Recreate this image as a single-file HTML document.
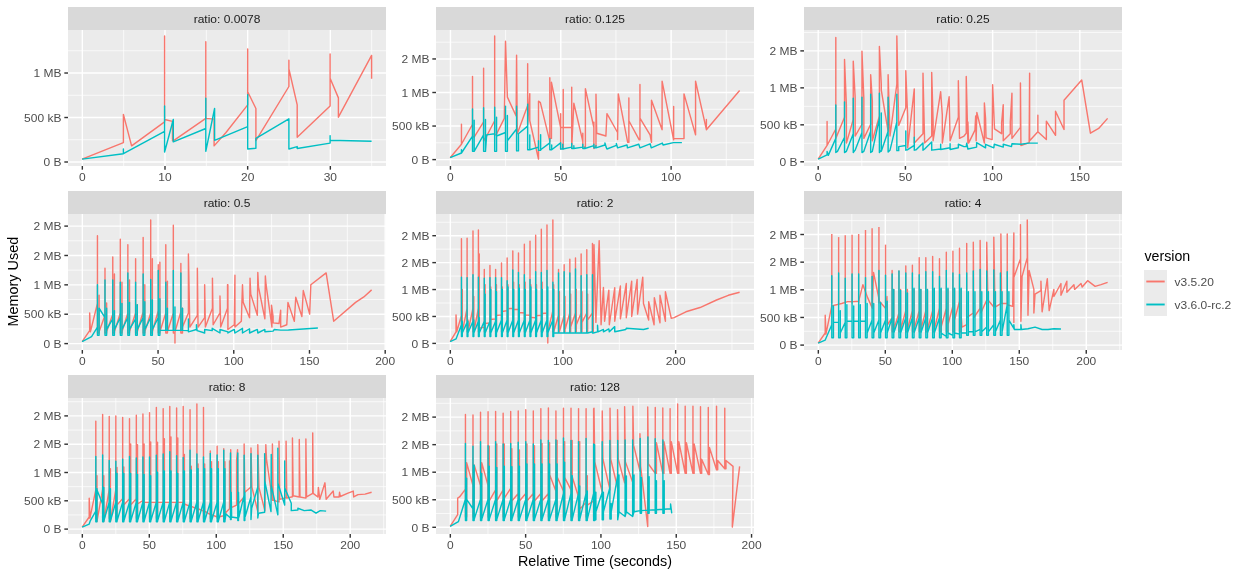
<!DOCTYPE html>
<html><head><meta charset="utf-8"><style>
html,body{margin:0;padding:0;background:#fff;width:1244px;height:577px;overflow:hidden;position:relative}
svg text{font-family:"Liberation Sans",sans-serif}
svg{will-change:transform}
</style></head><body>
<svg width="1244" height="577" viewBox="0 0 1244 577" style="position:absolute;left:0;top:0">
<rect x="68" y="7" width="318" height="23" fill="#D9D9D9"/>
<text transform="translate(227.0,22.8) scale(1,0.9)" fill="#1A1A1A" font-size="12" text-anchor="middle">ratio: 0.0078</text>
<rect x="68" y="30" width="318" height="136" fill="#EBEBEB"/>
<line x1="68" x2="386" y1="139.75" y2="139.75" stroke="#fff" stroke-width="0.71"/>
<line x1="68" x2="386" y1="95.27" y2="95.27" stroke="#fff" stroke-width="0.71"/>
<line x1="68" x2="386" y1="50.77" y2="50.77" stroke="#fff" stroke-width="0.71"/>
<line x1="123.66" x2="123.66" y1="30" y2="166" stroke="#fff" stroke-width="0.71"/>
<line x1="206.33" x2="206.33" y1="30" y2="166" stroke="#fff" stroke-width="0.71"/>
<line x1="289.00" x2="289.00" y1="30" y2="166" stroke="#fff" stroke-width="0.71"/>
<line x1="371.66" x2="371.66" y1="30" y2="166" stroke="#fff" stroke-width="0.71"/>
<line x1="68" x2="386" y1="162.00" y2="162.00" stroke="#fff" stroke-width="1.42"/>
<line x1="64.33" x2="68" y1="162.00" y2="162.00" stroke="#333" stroke-width="1.42"/>
<text transform="translate(61.4,166.20) scale(1,0.9)" fill="#4D4D4D" font-size="12" text-anchor="end">0 B</text>
<line x1="68" x2="386" y1="117.51" y2="117.51" stroke="#fff" stroke-width="1.42"/>
<line x1="64.33" x2="68" y1="117.51" y2="117.51" stroke="#333" stroke-width="1.42"/>
<text transform="translate(61.4,121.71) scale(1,0.9)" fill="#4D4D4D" font-size="12" text-anchor="end">500 kB</text>
<line x1="68" x2="386" y1="73.02" y2="73.02" stroke="#fff" stroke-width="1.42"/>
<line x1="64.33" x2="68" y1="73.02" y2="73.02" stroke="#333" stroke-width="1.42"/>
<text transform="translate(61.4,77.22) scale(1,0.9)" fill="#4D4D4D" font-size="12" text-anchor="end">1 MB</text>
<line x1="82.33" x2="82.33" y1="30" y2="166" stroke="#fff" stroke-width="1.42"/>
<line x1="82.33" x2="82.33" y1="166" y2="169.67" stroke="#333" stroke-width="1.42"/>
<text transform="translate(82.33,181.2) scale(1,0.9)" fill="#4D4D4D" font-size="12" text-anchor="middle">0</text>
<line x1="165.00" x2="165.00" y1="30" y2="166" stroke="#fff" stroke-width="1.42"/>
<line x1="165.00" x2="165.00" y1="166" y2="169.67" stroke="#333" stroke-width="1.42"/>
<text transform="translate(165.00,181.2) scale(1,0.9)" fill="#4D4D4D" font-size="12" text-anchor="middle">10</text>
<line x1="247.66" x2="247.66" y1="30" y2="166" stroke="#fff" stroke-width="1.42"/>
<line x1="247.66" x2="247.66" y1="166" y2="169.67" stroke="#333" stroke-width="1.42"/>
<text transform="translate(247.66,181.2) scale(1,0.9)" fill="#4D4D4D" font-size="12" text-anchor="middle">20</text>
<line x1="330.33" x2="330.33" y1="30" y2="166" stroke="#fff" stroke-width="1.42"/>
<line x1="330.33" x2="330.33" y1="166" y2="169.67" stroke="#333" stroke-width="1.42"/>
<text transform="translate(330.33,181.2) scale(1,0.9)" fill="#4D4D4D" font-size="12" text-anchor="middle">30</text>
<svg x="68" y="30" width="318" height="136" viewBox="68 30 318 136" overflow="hidden">
<polyline points="82.1,159.1 123.4,142.6 123.4,114.4 131.6,145.9 164.6,121.9 164.6,35.9 164.6,119.5 172.5,121.4 172.5,140.7 173.6,140.7 205.8,118.4 205.8,41.8 205.8,118.4 214.1,119.1 214.1,145.9 226,132.5 247.7,104.9 247.7,48.9 247.7,91.7 255.9,108.5 255.9,140.7 288.9,86.5 288.9,60.2 288.9,68.9 297.2,104.9 297.2,137.2 330.1,105.9 330.1,54.0 330.1,78.3 338.4,97.9 338.4,117.2 371.6,55.4 371.6,78.8" fill="none" stroke="#F8766D" stroke-width="1.42" stroke-linejoin="round"/>
<polyline points="82.1,159.1 123.4,153.7 123.4,149 123.4,153.7 164.6,131.3 164.6,105.9 164.6,152 173.3,119.5 173.3,141.9 205.8,128.5 205.8,98.3 205.8,151.3 214.6,108.5 214.6,140.3 226,135.6 247.7,126.6 247.7,94.8 247.7,149 255.9,148.3 255.9,138.4 288.9,118.8 288.9,149 297.2,146.6 297.2,148.5 330.1,143.1 330.1,135.6 330.1,140.3 371.6,141.2" fill="none" stroke="#00BFC4" stroke-width="1.42" stroke-linejoin="round"/>
</svg>
<rect x="436" y="7" width="318" height="23" fill="#D9D9D9"/>
<text transform="translate(595.0,22.8) scale(1,0.9)" fill="#1A1A1A" font-size="12" text-anchor="middle">ratio: 0.125</text>
<rect x="436" y="30" width="318" height="136" fill="#EBEBEB"/>
<line x1="436" x2="754" y1="142.82" y2="142.82" stroke="#fff" stroke-width="0.71"/>
<line x1="436" x2="754" y1="109.28" y2="109.28" stroke="#fff" stroke-width="0.71"/>
<line x1="436" x2="754" y1="75.72" y2="75.72" stroke="#fff" stroke-width="0.71"/>
<line x1="436" x2="754" y1="42.18" y2="42.18" stroke="#fff" stroke-width="0.71"/>
<line x1="505.61" x2="505.61" y1="30" y2="166" stroke="#fff" stroke-width="0.71"/>
<line x1="615.95" x2="615.95" y1="30" y2="166" stroke="#fff" stroke-width="0.71"/>
<line x1="726.29" x2="726.29" y1="30" y2="166" stroke="#fff" stroke-width="0.71"/>
<line x1="436" x2="754" y1="159.60" y2="159.60" stroke="#fff" stroke-width="1.42"/>
<line x1="432.33" x2="436" y1="159.60" y2="159.60" stroke="#333" stroke-width="1.42"/>
<text transform="translate(429.4,163.80) scale(1,0.9)" fill="#4D4D4D" font-size="12" text-anchor="end">0 B</text>
<line x1="436" x2="754" y1="126.05" y2="126.05" stroke="#fff" stroke-width="1.42"/>
<line x1="432.33" x2="436" y1="126.05" y2="126.05" stroke="#333" stroke-width="1.42"/>
<text transform="translate(429.4,130.25) scale(1,0.9)" fill="#4D4D4D" font-size="12" text-anchor="end">500 kB</text>
<line x1="436" x2="754" y1="92.50" y2="92.50" stroke="#fff" stroke-width="1.42"/>
<line x1="432.33" x2="436" y1="92.50" y2="92.50" stroke="#333" stroke-width="1.42"/>
<text transform="translate(429.4,96.70) scale(1,0.9)" fill="#4D4D4D" font-size="12" text-anchor="end">1 MB</text>
<line x1="436" x2="754" y1="58.95" y2="58.95" stroke="#fff" stroke-width="1.42"/>
<line x1="432.33" x2="436" y1="58.95" y2="58.95" stroke="#333" stroke-width="1.42"/>
<text transform="translate(429.4,63.15) scale(1,0.9)" fill="#4D4D4D" font-size="12" text-anchor="end">2 MB</text>
<line x1="450.44" x2="450.44" y1="30" y2="166" stroke="#fff" stroke-width="1.42"/>
<line x1="450.44" x2="450.44" y1="166" y2="169.67" stroke="#333" stroke-width="1.42"/>
<text transform="translate(450.44,181.2) scale(1,0.9)" fill="#4D4D4D" font-size="12" text-anchor="middle">0</text>
<line x1="560.78" x2="560.78" y1="30" y2="166" stroke="#fff" stroke-width="1.42"/>
<line x1="560.78" x2="560.78" y1="166" y2="169.67" stroke="#333" stroke-width="1.42"/>
<text transform="translate(560.78,181.2) scale(1,0.9)" fill="#4D4D4D" font-size="12" text-anchor="middle">50</text>
<line x1="671.12" x2="671.12" y1="30" y2="166" stroke="#fff" stroke-width="1.42"/>
<line x1="671.12" x2="671.12" y1="166" y2="169.67" stroke="#333" stroke-width="1.42"/>
<text transform="translate(671.12,181.2) scale(1,0.9)" fill="#4D4D4D" font-size="12" text-anchor="middle">100</text>
<svg x="436" y="30" width="318" height="136" viewBox="436 30 318 136" overflow="hidden">
<polyline points="450.14,157.71 461.45,144.28 461.45,124.25 461.45,144.28 472.52,124.25 472.52,76.42 472.52,136.03 474.17,137.21 483.6,121.89 483.6,68.17 483.6,140.74 486.66,136.03 494.67,120.72 494.67,35.89 494.67,134.85 496.08,134.85 504.33,118.36 505.51,41.31 507.39,97.15 516.11,116.0 516.58,55.21 517.29,133.68 527.66,105.4 527.66,63.69 527.66,124.25 529.78,93.62 529.78,120.72 538.5,159.12 538.5,101.16 540.38,102.57 549.81,141.45 549.81,77.83 549.81,138.39 551.46,138.39 551.46,82.31 560.65,127.55 560.65,148.99 560.65,113.65 560.65,127.55 563.24,127.55 563.24,89.38 563.24,148.99 563.24,127.55 571.72,127.55 571.72,87.26 571.72,148.28 573.84,103.28 582.8,141.45 582.8,147.11 582.8,133.2 582.8,147.11 585.39,147.11 585.39,88.67 593.87,127.55 593.87,148.52 593.87,122.13 593.87,148.52 595.99,145.69 595.99,94.33 596.7,133.2 605.89,136.03 606.96,113.65 617.56,132.5 617.56,139.57 618.27,93.85 627.69,142.39 628.87,142.39 628.87,97.86 628.87,120.72 639.24,139.8 639.95,139.8 639.95,84.43 639.95,118.12 650.08,134.85 651.49,142.39 651.49,100.22 662.1,129.67 662.1,81.13 673.64,139.8 673.64,106.58 673.64,138.62 684.01,138.62 684.01,93.85 695.56,134.85 695.56,81.13 706.39,129.67 706.39,119.54 706.39,129.67 739.62,90.56" fill="none" stroke="#F8766D" stroke-width="1.42" stroke-linejoin="round"/>
<polyline points="450.14,157.71 461.45,153.0 461.45,149.7 461.45,153.0 472.52,136.03 472.52,108.93 472.52,151.35 474.17,151.35 474.17,120.25 474.17,151.35 483.6,134.85 483.6,107.76 483.6,151.35 485.48,151.35 485.48,119.54 485.48,151.35 486.66,134.85 494.67,133.68 494.67,107.29 494.67,151.35 496.56,151.35 496.56,117.18 496.56,136.03 505.51,132.5 505.51,106.11 505.51,151.35 507.39,151.35 507.39,115.53 507.39,140.74 516.58,128.96 516.58,106.11 516.58,150.88 518.47,150.88 518.47,133.68 527.66,126.14 527.66,104.22 527.66,149.7 529.78,149.7 529.78,134.85 529.78,149.7 538.5,147.11 538.5,140.74 538.5,150.41 540.62,150.41 540.62,134.62 540.62,149.7 549.81,142.87 549.81,138.62 549.81,149.7 551.69,149.7 551.69,144.99 551.69,149.7 560.65,142.87 560.65,148.99 562.77,148.99 562.77,144.28 562.77,148.99 571.72,147.11 571.72,143.57 571.72,148.52 573.84,148.52 573.84,145.69 573.84,148.52 582.8,147.11 582.8,144.28 582.8,148.52 584.92,148.52 584.92,147.11 584.92,148.52 593.87,145.69 593.87,144.28 593.87,147.81 595.99,147.81 595.99,145.69 595.99,147.81 604.94,144.99 604.94,142.87 606.12,147.11 606.96,148.99 616.38,145.46 616.38,143.57 617.56,147.81 626.99,144.99 627.46,147.81 638.77,144.28 639.95,147.81 650.08,143.81 651.26,147.81 662.33,143.1 663.04,144.99 673.41,142.63 681.89,142.63" fill="none" stroke="#00BFC4" stroke-width="1.42" stroke-linejoin="round"/>
</svg>
<rect x="804" y="7" width="318" height="23" fill="#D9D9D9"/>
<text transform="translate(963.0,22.8) scale(1,0.9)" fill="#1A1A1A" font-size="12" text-anchor="middle">ratio: 0.25</text>
<rect x="804" y="30" width="318" height="136" fill="#EBEBEB"/>
<line x1="804" x2="1122" y1="143.31" y2="143.31" stroke="#fff" stroke-width="0.71"/>
<line x1="804" x2="1122" y1="106.35" y2="106.35" stroke="#fff" stroke-width="0.71"/>
<line x1="804" x2="1122" y1="69.38" y2="69.38" stroke="#fff" stroke-width="0.71"/>
<line x1="804" x2="1122" y1="32.41" y2="32.41" stroke="#fff" stroke-width="0.71"/>
<line x1="861.81" x2="861.81" y1="30" y2="166" stroke="#fff" stroke-width="0.71"/>
<line x1="949.02" x2="949.02" y1="30" y2="166" stroke="#fff" stroke-width="0.71"/>
<line x1="1036.24" x2="1036.24" y1="30" y2="166" stroke="#fff" stroke-width="0.71"/>
<line x1="804" x2="1122" y1="161.80" y2="161.80" stroke="#fff" stroke-width="1.42"/>
<line x1="800.33" x2="804" y1="161.80" y2="161.80" stroke="#333" stroke-width="1.42"/>
<text transform="translate(797.4,166.00) scale(1,0.9)" fill="#4D4D4D" font-size="12" text-anchor="end">0 B</text>
<line x1="804" x2="1122" y1="124.83" y2="124.83" stroke="#fff" stroke-width="1.42"/>
<line x1="800.33" x2="804" y1="124.83" y2="124.83" stroke="#333" stroke-width="1.42"/>
<text transform="translate(797.4,129.03) scale(1,0.9)" fill="#4D4D4D" font-size="12" text-anchor="end">500 kB</text>
<line x1="804" x2="1122" y1="87.86" y2="87.86" stroke="#fff" stroke-width="1.42"/>
<line x1="800.33" x2="804" y1="87.86" y2="87.86" stroke="#333" stroke-width="1.42"/>
<text transform="translate(797.4,92.06) scale(1,0.9)" fill="#4D4D4D" font-size="12" text-anchor="end">1 MB</text>
<line x1="804" x2="1122" y1="50.89" y2="50.89" stroke="#fff" stroke-width="1.42"/>
<line x1="800.33" x2="804" y1="50.89" y2="50.89" stroke="#333" stroke-width="1.42"/>
<text transform="translate(797.4,55.09) scale(1,0.9)" fill="#4D4D4D" font-size="12" text-anchor="end">2 MB</text>
<line x1="818.20" x2="818.20" y1="30" y2="166" stroke="#fff" stroke-width="1.42"/>
<line x1="818.20" x2="818.20" y1="166" y2="169.67" stroke="#333" stroke-width="1.42"/>
<text transform="translate(818.20,181.2) scale(1,0.9)" fill="#4D4D4D" font-size="12" text-anchor="middle">0</text>
<line x1="905.42" x2="905.42" y1="30" y2="166" stroke="#fff" stroke-width="1.42"/>
<line x1="905.42" x2="905.42" y1="166" y2="169.67" stroke="#333" stroke-width="1.42"/>
<text transform="translate(905.42,181.2) scale(1,0.9)" fill="#4D4D4D" font-size="12" text-anchor="middle">50</text>
<line x1="992.63" x2="992.63" y1="30" y2="166" stroke="#fff" stroke-width="1.42"/>
<line x1="992.63" x2="992.63" y1="166" y2="169.67" stroke="#333" stroke-width="1.42"/>
<text transform="translate(992.63,181.2) scale(1,0.9)" fill="#4D4D4D" font-size="12" text-anchor="middle">100</text>
<line x1="1079.85" x2="1079.85" y1="30" y2="166" stroke="#fff" stroke-width="1.42"/>
<line x1="1079.85" x2="1079.85" y1="166" y2="169.67" stroke="#333" stroke-width="1.42"/>
<text transform="translate(1079.85,181.2) scale(1,0.9)" fill="#4D4D4D" font-size="12" text-anchor="middle">150</text>
<svg x="804" y="30" width="318" height="136" viewBox="804 30 318 136" overflow="hidden">
<polyline points="818.14,159.12 827.09,145.46 827.09,121.42 827.09,145.46 835.81,128.96 835.81,37.54 835.81,138.39 844.53,117.18 844.53,59.45 846.41,105.87 846.41,143.1 853.25,119.54 853.25,61.1 855.13,97.15 855.13,136.03 861.96,124.25 861.96,51.21 863.85,98.8 863.85,138.39 870.68,124.25 870.68,74.77 872.33,100.69 872.33,140.74 879.4,116.0 879.4,46.49 881.29,84.19 881.29,90.08 888.12,131.32 888.12,74.77 890.0,136.03 896.84,84.19 896.84,35.89 898.72,125.43 905.79,107.76 905.79,70.76 907.68,116.71 907.68,147.81 914.27,88.91 914.27,143.1 922.99,133.68 922.99,73.12 924.64,143.1 931.71,136.03 931.71,72.41 933.12,121.89 933.12,140.74 940.66,91.73 942.31,114.83 942.31,143.1 949.15,96.68 950.09,140.74 958.34,117.18 958.34,80.66 959.51,138.39 963.99,136.03 966.24,133.2 966.24,76.42 967.89,143.1 967.89,121.89 968.6,143.1 974.96,130.14 975.67,116.0 976.14,140.74 976.84,112.47 984.38,143.1 984.38,103.04 985.56,118.36 986.03,137.92 992.16,139.57 992.63,84.67 994.52,128.96 1001.59,133.68 1001.59,123.07 1003.23,104.69 1003.23,140.74 1010.3,133.68 1010.3,121.89 1011.95,93.15 1011.95,138.39 1020.44,127.31 1020.44,83.02 1020.91,145.46 1029.15,142.63 1029.62,73.12 1029.62,140.74 1037.87,131.79 1037.87,115.3 1037.87,131.79 1046.35,139.57 1046.35,121.19 1055.54,135.33 1055.54,111.29 1064.03,129.43 1064.03,100.22 1081.7,79.95 1090.42,133.2 1098.66,128.49 1107.62,118.36" fill="none" stroke="#F8766D" stroke-width="1.42" stroke-linejoin="round"/>
<polyline points="818.14,159.12 827.09,154.88 827.09,151.35 828.27,155.35 835.81,138.39 835.81,104.93 835.81,152.53 837.46,151.35 844.53,137.21 844.53,101.87 844.53,152.53 846.41,151.35 853.25,133.68 853.25,98.33 853.25,152.53 855.13,150.17 861.96,132.5 861.96,97.15 861.96,152.53 863.85,151.35 870.68,131.32 870.68,94.09 870.68,152.53 872.33,151.35 879.4,118.36 879.4,93.15 879.4,152.53 881.29,150.17 881.29,112.94 881.29,151.35 888.12,131.32 888.12,97.15 888.12,152.05 890.0,150.17 896.84,121.89 896.84,94.09 896.84,150.64 898.72,150.64 898.72,146.64 905.79,145.46 905.79,130.85 905.79,150.17 907.68,149.7 914.27,145.46 914.27,137.21 914.27,150.17 916.16,149.7 922.99,143.1 922.99,150.17 924.64,148.99 931.71,141.92 931.71,150.17 940.66,148.99 940.66,144.28 940.66,149.46 950.09,147.81 950.09,143.81 950.09,149.46 958.34,147.81 958.34,144.28 963.99,146.64 966.24,146.64 966.71,143.1 967.89,148.99 976.61,147.11 976.61,142.63 985.56,147.81 985.56,144.28 993.81,147.81 994.28,144.28 1003.23,147.11 1003.23,144.28 1011.48,146.64 1011.95,143.81 1020.91,144.28 1028.68,143.1 1037.87,143.1" fill="none" stroke="#00BFC4" stroke-width="1.42" stroke-linejoin="round"/>
</svg>
<rect x="68" y="191" width="318" height="23" fill="#D9D9D9"/>
<text transform="translate(227.0,206.8) scale(1,0.9)" fill="#1A1A1A" font-size="12" text-anchor="middle">ratio: 0.5</text>
<rect x="68" y="214" width="318" height="136" fill="#EBEBEB"/>
<line x1="68" x2="386" y1="328.91" y2="328.91" stroke="#fff" stroke-width="0.71"/>
<line x1="68" x2="386" y1="299.54" y2="299.54" stroke="#fff" stroke-width="0.71"/>
<line x1="68" x2="386" y1="270.16" y2="270.16" stroke="#fff" stroke-width="0.71"/>
<line x1="68" x2="386" y1="240.79" y2="240.79" stroke="#fff" stroke-width="0.71"/>
<line x1="120.19" x2="120.19" y1="214" y2="350" stroke="#fff" stroke-width="0.71"/>
<line x1="195.90" x2="195.90" y1="214" y2="350" stroke="#fff" stroke-width="0.71"/>
<line x1="271.62" x2="271.62" y1="214" y2="350" stroke="#fff" stroke-width="0.71"/>
<line x1="347.33" x2="347.33" y1="214" y2="350" stroke="#fff" stroke-width="0.71"/>
<line x1="68" x2="386" y1="343.60" y2="343.60" stroke="#fff" stroke-width="1.42"/>
<line x1="64.33" x2="68" y1="343.60" y2="343.60" stroke="#333" stroke-width="1.42"/>
<text transform="translate(61.4,347.80) scale(1,0.9)" fill="#4D4D4D" font-size="12" text-anchor="end">0 B</text>
<line x1="68" x2="386" y1="314.23" y2="314.23" stroke="#fff" stroke-width="1.42"/>
<line x1="64.33" x2="68" y1="314.23" y2="314.23" stroke="#333" stroke-width="1.42"/>
<text transform="translate(61.4,318.43) scale(1,0.9)" fill="#4D4D4D" font-size="12" text-anchor="end">500 kB</text>
<line x1="68" x2="386" y1="284.85" y2="284.85" stroke="#fff" stroke-width="1.42"/>
<line x1="64.33" x2="68" y1="284.85" y2="284.85" stroke="#333" stroke-width="1.42"/>
<text transform="translate(61.4,289.05) scale(1,0.9)" fill="#4D4D4D" font-size="12" text-anchor="end">1 MB</text>
<line x1="68" x2="386" y1="255.48" y2="255.48" stroke="#fff" stroke-width="1.42"/>
<line x1="64.33" x2="68" y1="255.48" y2="255.48" stroke="#333" stroke-width="1.42"/>
<text transform="translate(61.4,259.68) scale(1,0.9)" fill="#4D4D4D" font-size="12" text-anchor="end">2 MB</text>
<line x1="68" x2="386" y1="226.10" y2="226.10" stroke="#fff" stroke-width="1.42"/>
<line x1="64.33" x2="68" y1="226.10" y2="226.10" stroke="#333" stroke-width="1.42"/>
<text transform="translate(61.4,230.30) scale(1,0.9)" fill="#4D4D4D" font-size="12" text-anchor="end">2 MB</text>
<line x1="82.33" x2="82.33" y1="214" y2="350" stroke="#fff" stroke-width="1.42"/>
<line x1="82.33" x2="82.33" y1="350" y2="353.67" stroke="#333" stroke-width="1.42"/>
<text transform="translate(82.33,365.2) scale(1,0.9)" fill="#4D4D4D" font-size="12" text-anchor="middle">0</text>
<line x1="158.05" x2="158.05" y1="214" y2="350" stroke="#fff" stroke-width="1.42"/>
<line x1="158.05" x2="158.05" y1="350" y2="353.67" stroke="#333" stroke-width="1.42"/>
<text transform="translate(158.05,365.2) scale(1,0.9)" fill="#4D4D4D" font-size="12" text-anchor="middle">50</text>
<line x1="233.76" x2="233.76" y1="214" y2="350" stroke="#fff" stroke-width="1.42"/>
<line x1="233.76" x2="233.76" y1="350" y2="353.67" stroke="#333" stroke-width="1.42"/>
<text transform="translate(233.76,365.2) scale(1,0.9)" fill="#4D4D4D" font-size="12" text-anchor="middle">100</text>
<line x1="309.48" x2="309.48" y1="214" y2="350" stroke="#fff" stroke-width="1.42"/>
<line x1="309.48" x2="309.48" y1="350" y2="353.67" stroke="#333" stroke-width="1.42"/>
<text transform="translate(309.48,365.2) scale(1,0.9)" fill="#4D4D4D" font-size="12" text-anchor="middle">150</text>
<line x1="385.19" x2="385.19" y1="214" y2="350" stroke="#fff" stroke-width="1.42"/>
<line x1="385.19" x2="385.19" y1="350" y2="353.67" stroke="#333" stroke-width="1.42"/>
<text transform="translate(385.19,365.2) scale(1,0.9)" fill="#4D4D4D" font-size="12" text-anchor="middle">200</text>
<svg x="68" y="214" width="318" height="136" viewBox="68 214 318 136" overflow="hidden">
<polyline points="82.14,341.71 89.68,330.64 89.68,312.96 90.38,331.81 97.45,303.54 97.45,235.68 97.45,332.99 99.1,332.99 99.1,295.29 99.1,331.81 104.99,315.32 104.99,268.19 104.99,332.99 106.64,332.99 106.64,303.07 106.64,331.81 112.77,314.14 112.77,256.88 112.77,332.99 114.42,332.99 114.42,274.08 114.42,331.81 120.31,312.96 120.31,239.21 120.31,332.99 121.96,332.99 121.96,282.33 121.96,331.81 127.85,312.96 127.85,244.63 127.85,332.99 129.5,332.99 129.5,279.98 129.5,331.81 135.62,312.96 135.62,258.77 135.62,332.99 137.27,332.99 137.27,304.72 137.27,331.81 143.16,311.79 143.16,237.56 143.16,332.99 144.81,332.99 144.81,284.69 144.81,331.81 150.7,312.96 150.7,219.89 150.7,332.99 152.35,332.99 152.35,258.77 152.35,331.81 158.25,310.61 158.25,264.66 158.25,332.99 159.89,332.99 159.89,262.3 159.89,331.81 165.79,312.96 165.79,244.63 165.79,332.99 167.43,332.99 167.43,281.15 167.43,331.81 173.33,312.96 173.33,225.31 173.33,332.99 174.97,332.99 174.97,343.12 174.97,331.81 180.87,311.79 180.87,263.48 180.87,332.99 182.51,332.99 182.51,308.25 182.51,331.81 182.51,327.1 188.41,312.96 188.41,254.06 189.82,327.1 197.36,315.32 197.36,268.19 198.07,327.1 204.66,317.68 204.66,284.69 205.37,327.1 212.44,308.25 212.44,278.09 213.15,324.74 219.98,312.96 219.98,296.0 220.69,327.1 227.52,308.25 227.52,284.69 227.99,327.1 227.89,284.69 227.89,329.46 234.25,324.74 234.95,275.26 234.95,327.1 241.32,321.21 242.49,284.69 243.2,302.36 249.56,317.68 250.03,278.09 250.74,294.11 257.34,315.32 257.81,272.44 258.52,287.04 264.88,318.85 265.35,275.97 266.06,284.69 271.95,327.1 271.48,305.19 273.13,316.5 273.13,322.86 279.02,323.57 280.67,310.14 280.67,327.1 286.79,324.74 287.97,302.36 294.33,321.21 295.75,297.18 301.87,316.5 303.29,290.58 309.65,314.14 310.83,284.69 326.14,272.91 333.68,321.21 355.59,302.36 363.84,296.94 371.62,289.87" fill="none" stroke="#F8766D" stroke-width="1.42" stroke-linejoin="round"/>
<polyline points="82.14,341.71 89.68,337.7 91.56,336.53 97.45,327.1 97.45,284.69 97.45,335.35 99.1,335.35 99.1,308.25 99.1,308.25 104.99,317.68 104.99,279.98 104.99,335.35 106.64,335.35 106.64,308.25 106.64,329.46 112.77,318.85 112.77,279.98 112.77,335.35 114.42,335.35 114.42,310.61 114.42,329.46 120.31,317.68 120.31,282.33 120.31,335.35 121.96,335.35 121.96,303.54 121.96,329.46 127.85,317.68 127.85,272.91 127.85,335.35 129.5,335.35 129.5,302.36 129.5,329.46 135.62,318.85 135.62,282.33 135.62,335.35 137.27,335.35 137.27,304.72 137.27,329.46 143.16,317.68 143.16,274.08 143.16,335.35 144.81,335.35 144.81,301.65 144.81,329.46 150.7,317.68 150.7,279.5 150.7,335.35 152.35,335.35 152.35,300.0 152.35,329.46 158.25,317.68 158.25,270.55 158.25,335.35 159.89,335.35 159.89,298.83 159.89,329.46 159.89,330.4 165.79,330.4 165.79,282.33 165.79,330.4 167.43,330.4 167.43,308.25 167.43,330.4 173.33,330.4 173.33,270.55 173.33,330.4 174.97,330.4 174.97,307.07 174.97,330.4 180.87,330.4 180.87,272.91 180.87,330.4 182.51,330.4 182.51,308.25 182.51,330.4 188.41,330.64 188.41,318.85 188.41,331.81 196.42,329.46 196.42,324.74 197.12,330.64 204.66,332.99 204.66,329.46 212.2,330.64 212.2,328.28 219.98,332.99 219.98,329.46 227.99,331.81 227.89,332.99 234.25,329.46 234.95,332.99 242.49,328.28 242.49,332.99 249.56,328.75 249.56,332.99 257.34,329.46 257.81,332.99 264.88,329.46 264.88,331.81 273.13,331.11 274.3,329.46 280.67,330.16 288.44,329.93 317.89,328.04" fill="none" stroke="#00BFC4" stroke-width="1.42" stroke-linejoin="round"/>
</svg>
<rect x="436" y="191" width="318" height="23" fill="#D9D9D9"/>
<text transform="translate(595.0,206.8) scale(1,0.9)" fill="#1A1A1A" font-size="12" text-anchor="middle">ratio: 2</text>
<rect x="436" y="214" width="318" height="136" fill="#EBEBEB"/>
<line x1="436" x2="754" y1="329.94" y2="329.94" stroke="#fff" stroke-width="0.71"/>
<line x1="436" x2="754" y1="303.01" y2="303.01" stroke="#fff" stroke-width="0.71"/>
<line x1="436" x2="754" y1="276.09" y2="276.09" stroke="#fff" stroke-width="0.71"/>
<line x1="436" x2="754" y1="249.16" y2="249.16" stroke="#fff" stroke-width="0.71"/>
<line x1="436" x2="754" y1="222.24" y2="222.24" stroke="#fff" stroke-width="0.71"/>
<line x1="506.66" x2="506.66" y1="214" y2="350" stroke="#fff" stroke-width="0.71"/>
<line x1="619.31" x2="619.31" y1="214" y2="350" stroke="#fff" stroke-width="0.71"/>
<line x1="731.97" x2="731.97" y1="214" y2="350" stroke="#fff" stroke-width="0.71"/>
<line x1="436" x2="754" y1="343.40" y2="343.40" stroke="#fff" stroke-width="1.42"/>
<line x1="432.33" x2="436" y1="343.40" y2="343.40" stroke="#333" stroke-width="1.42"/>
<text transform="translate(429.4,347.60) scale(1,0.9)" fill="#4D4D4D" font-size="12" text-anchor="end">0 B</text>
<line x1="436" x2="754" y1="316.47" y2="316.47" stroke="#fff" stroke-width="1.42"/>
<line x1="432.33" x2="436" y1="316.47" y2="316.47" stroke="#333" stroke-width="1.42"/>
<text transform="translate(429.4,320.67) scale(1,0.9)" fill="#4D4D4D" font-size="12" text-anchor="end">500 kB</text>
<line x1="436" x2="754" y1="289.55" y2="289.55" stroke="#fff" stroke-width="1.42"/>
<line x1="432.33" x2="436" y1="289.55" y2="289.55" stroke="#333" stroke-width="1.42"/>
<text transform="translate(429.4,293.75) scale(1,0.9)" fill="#4D4D4D" font-size="12" text-anchor="end">1 MB</text>
<line x1="436" x2="754" y1="262.62" y2="262.62" stroke="#fff" stroke-width="1.42"/>
<line x1="432.33" x2="436" y1="262.62" y2="262.62" stroke="#333" stroke-width="1.42"/>
<text transform="translate(429.4,266.82) scale(1,0.9)" fill="#4D4D4D" font-size="12" text-anchor="end">2 MB</text>
<line x1="436" x2="754" y1="235.70" y2="235.70" stroke="#fff" stroke-width="1.42"/>
<line x1="432.33" x2="436" y1="235.70" y2="235.70" stroke="#333" stroke-width="1.42"/>
<text transform="translate(429.4,239.90) scale(1,0.9)" fill="#4D4D4D" font-size="12" text-anchor="end">2 MB</text>
<line x1="450.33" x2="450.33" y1="214" y2="350" stroke="#fff" stroke-width="1.42"/>
<line x1="450.33" x2="450.33" y1="350" y2="353.67" stroke="#333" stroke-width="1.42"/>
<text transform="translate(450.33,365.2) scale(1,0.9)" fill="#4D4D4D" font-size="12" text-anchor="middle">0</text>
<line x1="562.99" x2="562.99" y1="214" y2="350" stroke="#fff" stroke-width="1.42"/>
<line x1="562.99" x2="562.99" y1="350" y2="353.67" stroke="#333" stroke-width="1.42"/>
<text transform="translate(562.99,365.2) scale(1,0.9)" fill="#4D4D4D" font-size="12" text-anchor="middle">100</text>
<line x1="675.64" x2="675.64" y1="214" y2="350" stroke="#fff" stroke-width="1.42"/>
<line x1="675.64" x2="675.64" y1="350" y2="353.67" stroke="#333" stroke-width="1.42"/>
<text transform="translate(675.64,365.2) scale(1,0.9)" fill="#4D4D4D" font-size="12" text-anchor="middle">200</text>
<svg x="436" y="214" width="318" height="136" viewBox="436 214 318 136" overflow="hidden">
<polyline points="450.14,341.71 456.03,331.81 456.03,314.85 456.74,331.81 461.45,315.32 461.45,238.74 461.45,331.81 462.27,331.81 462.27,289.4 462.27,331.81 467.1,308.25 467.1,238.27 467.1,331.81 467.93,331.81 467.93,320.03 467.93,331.81 472.99,308.25 472.99,230.97 472.99,331.81 473.82,331.81 473.82,296.47 473.82,331.81 478.41,308.25 478.41,230.02 478.41,331.81 479.24,331.81 479.24,254.06 479.24,328.28 484.3,327.1 484.3,269.37 484.3,331.81 485.13,331.81 485.13,284.69 485.13,323.57 489.96,322.86 489.96,265.37 489.96,331.81 490.78,331.81 490.78,287.04 490.78,319.56 495.61,318.85 495.61,269.37 495.61,331.81 496.44,331.81 496.44,284.69 496.44,315.56 501.5,314.85 501.5,263.01 501.5,331.81 502.33,331.81 502.33,287.04 502.33,311.55 507.16,310.61 507.16,258.06 507.16,331.81 507.98,331.81 507.98,284.69 507.98,308.72 512.81,308.25 512.81,250.99 512.81,331.81 513.64,331.81 513.64,282.33 513.64,309.19 518.47,309.43 518.47,252.88 518.47,331.81 519.29,331.81 519.29,284.69 519.29,312.49 524.36,312.96 524.36,244.16 524.36,331.81 525.18,331.81 525.18,282.33 525.18,314.85 530.02,315.32 530.02,241.1 530.02,331.81 530.84,331.81 530.84,284.69 530.84,317.2 535.67,317.68 535.67,235.21 535.67,331.81 536.49,331.81 536.49,284.69 536.49,315.79 541.33,315.32 541.33,229.32 541.33,331.81 542.15,331.81 542.15,282.33 542.15,313.43 546.98,312.96 546.98,225.07 546.98,331.81 547.8,331.81 547.8,343.12 547.8,331.81 552.87,310.61 552.87,219.89 552.87,331.81 553.7,331.81 553.7,284.69 553.7,331.81 558.53,315.32 558.53,269.37 558.53,331.81 559.35,331.81 559.35,291.76 559.35,331.81 564.18,315.32 564.18,264.66 564.18,331.81 565.01,331.81 565.01,296.47 565.01,329.46 569.84,312.96 569.84,259.24 569.84,331.81 570.66,331.81 570.66,294.11 570.66,327.1 575.49,312.96 575.49,258.06 575.49,331.81 576.32,331.81 576.32,289.4 576.32,324.74 581.15,312.96 581.15,254.06 581.15,331.81 581.97,331.81 581.97,291.76 581.97,322.39 586.8,312.96 586.8,249.82 586.8,331.81 587.63,331.81 587.63,294.11 587.63,320.03 592.46,312.96 592.46,243.45 592.46,331.81 593.28,331.81 593.28,291.76 593.28,317.68 594.0,244.63 595.89,322.39 599.18,240.63 601.07,324.74 603.43,287.52 604.6,321.21 608.84,290.11 609.32,324.74 614.74,287.75 614.74,321.21 620.39,285.87 620.39,318.85 626.28,283.51 626.28,317.68 631.7,281.15 631.7,316.5 637.12,279.5 637.59,314.14 642.77,277.15 643.48,303.54 648.67,320.03 648.67,301.65 654.08,324.74 654.32,297.65 659.98,322.86 659.98,295.29 665.39,321.21 665.39,291.76 671.29,318.38 674.11,317.68 685.89,311.79 700.03,307.54 716.53,300.0 728.31,295.29 739.62,292.23" fill="none" stroke="#F8766D" stroke-width="1.42" stroke-linejoin="round"/>
<polyline points="450.14,341.71 456.03,338.88 461.45,324.74 461.45,277.15 461.45,336.53 462.27,336.53 462.27,321.21 462.27,332.99 467.1,322.39 467.1,277.62 467.1,336.53 467.93,336.53 467.93,321.21 467.93,332.99 472.99,321.21 472.99,274.79 472.99,336.53 473.82,336.53 473.82,320.03 473.82,332.99 478.41,321.21 478.41,277.15 478.41,336.53 479.24,336.53 479.24,317.68 479.24,332.99 484.3,321.21 484.3,278.09 484.3,336.53 485.13,336.53 485.13,294.11 485.13,332.99 489.96,321.21 489.96,277.62 489.96,336.53 490.78,336.53 490.78,289.4 490.78,332.99 495.61,321.21 495.61,277.62 495.61,336.53 496.44,336.53 496.44,291.76 496.44,332.99 501.5,320.03 501.5,277.62 501.5,336.53 502.33,336.53 502.33,289.4 502.33,332.99 507.16,320.03 507.16,280.68 507.16,336.53 507.98,336.53 507.98,287.04 507.98,332.99 512.81,320.03 512.81,270.08 512.81,336.53 513.64,336.53 513.64,289.4 513.64,332.99 518.47,320.03 518.47,272.44 518.47,336.53 519.29,336.53 519.29,288.22 519.29,332.99 524.36,320.03 524.36,274.79 524.36,336.53 525.18,336.53 525.18,289.4 525.18,332.99 530.02,320.03 530.02,279.5 530.02,336.53 530.84,336.53 530.84,287.04 530.84,332.99 535.67,320.03 535.67,271.73 535.67,336.53 536.49,336.53 536.49,289.4 536.49,332.99 541.33,320.03 541.33,272.44 541.33,336.53 542.15,336.53 542.15,289.4 542.15,332.99 546.98,320.03 546.98,270.55 546.98,336.53 547.8,336.53 547.8,287.04 547.8,332.99 552.87,320.03 552.87,282.33 552.87,336.53 553.7,336.53 553.7,289.4 553.7,332.99 558.53,332.99 558.53,272.91 558.53,332.99 559.35,332.99 564.18,332.99 564.18,271.73 564.18,332.99 565.01,332.99 569.84,332.99 569.84,272.91 569.84,332.99 570.66,332.99 575.49,332.99 575.49,268.9 575.49,332.99 576.32,332.99 581.15,332.99 581.15,275.73 581.15,332.99 581.97,332.99 586.8,332.99 586.8,274.79 586.8,332.99 587.63,332.99 592.46,331.81 592.46,274.79 592.46,332.99 593.28,332.99 597.53,331.81 597.53,325.22 598.01,331.81 603.43,329.46 603.43,331.81 608.84,328.99 609.32,331.81 614.74,326.63 614.74,331.81 625.81,329.46 626.28,328.28 643.48,329.46 648.67,328.28" fill="none" stroke="#00BFC4" stroke-width="1.42" stroke-linejoin="round"/>
</svg>
<rect x="804" y="191" width="318" height="23" fill="#D9D9D9"/>
<text transform="translate(963.0,206.8) scale(1,0.9)" fill="#1A1A1A" font-size="12" text-anchor="middle">ratio: 4</text>
<rect x="804" y="214" width="318" height="136" fill="#EBEBEB"/>
<line x1="804" x2="1122" y1="331.28" y2="331.28" stroke="#fff" stroke-width="0.71"/>
<line x1="804" x2="1122" y1="303.62" y2="303.62" stroke="#fff" stroke-width="0.71"/>
<line x1="804" x2="1122" y1="275.98" y2="275.98" stroke="#fff" stroke-width="0.71"/>
<line x1="804" x2="1122" y1="248.33" y2="248.33" stroke="#fff" stroke-width="0.71"/>
<line x1="804" x2="1122" y1="220.68" y2="220.68" stroke="#fff" stroke-width="0.71"/>
<line x1="851.82" x2="851.82" y1="214" y2="350" stroke="#fff" stroke-width="0.71"/>
<line x1="918.80" x2="918.80" y1="214" y2="350" stroke="#fff" stroke-width="0.71"/>
<line x1="985.78" x2="985.78" y1="214" y2="350" stroke="#fff" stroke-width="0.71"/>
<line x1="1052.76" x2="1052.76" y1="214" y2="350" stroke="#fff" stroke-width="0.71"/>
<line x1="1119.74" x2="1119.74" y1="214" y2="350" stroke="#fff" stroke-width="0.71"/>
<line x1="804" x2="1122" y1="345.10" y2="345.10" stroke="#fff" stroke-width="1.42"/>
<line x1="800.33" x2="804" y1="345.10" y2="345.10" stroke="#333" stroke-width="1.42"/>
<text transform="translate(797.4,349.30) scale(1,0.9)" fill="#4D4D4D" font-size="12" text-anchor="end">0 B</text>
<line x1="804" x2="1122" y1="317.45" y2="317.45" stroke="#fff" stroke-width="1.42"/>
<line x1="800.33" x2="804" y1="317.45" y2="317.45" stroke="#333" stroke-width="1.42"/>
<text transform="translate(797.4,321.65) scale(1,0.9)" fill="#4D4D4D" font-size="12" text-anchor="end">500 kB</text>
<line x1="804" x2="1122" y1="289.80" y2="289.80" stroke="#fff" stroke-width="1.42"/>
<line x1="800.33" x2="804" y1="289.80" y2="289.80" stroke="#333" stroke-width="1.42"/>
<text transform="translate(797.4,294.00) scale(1,0.9)" fill="#4D4D4D" font-size="12" text-anchor="end">1 MB</text>
<line x1="804" x2="1122" y1="262.15" y2="262.15" stroke="#fff" stroke-width="1.42"/>
<line x1="800.33" x2="804" y1="262.15" y2="262.15" stroke="#333" stroke-width="1.42"/>
<text transform="translate(797.4,266.35) scale(1,0.9)" fill="#4D4D4D" font-size="12" text-anchor="end">2 MB</text>
<line x1="804" x2="1122" y1="234.50" y2="234.50" stroke="#fff" stroke-width="1.42"/>
<line x1="800.33" x2="804" y1="234.50" y2="234.50" stroke="#333" stroke-width="1.42"/>
<text transform="translate(797.4,238.70) scale(1,0.9)" fill="#4D4D4D" font-size="12" text-anchor="end">2 MB</text>
<line x1="818.33" x2="818.33" y1="214" y2="350" stroke="#fff" stroke-width="1.42"/>
<line x1="818.33" x2="818.33" y1="350" y2="353.67" stroke="#333" stroke-width="1.42"/>
<text transform="translate(818.33,365.2) scale(1,0.9)" fill="#4D4D4D" font-size="12" text-anchor="middle">0</text>
<line x1="885.31" x2="885.31" y1="214" y2="350" stroke="#fff" stroke-width="1.42"/>
<line x1="885.31" x2="885.31" y1="350" y2="353.67" stroke="#333" stroke-width="1.42"/>
<text transform="translate(885.31,365.2) scale(1,0.9)" fill="#4D4D4D" font-size="12" text-anchor="middle">50</text>
<line x1="952.29" x2="952.29" y1="214" y2="350" stroke="#fff" stroke-width="1.42"/>
<line x1="952.29" x2="952.29" y1="350" y2="353.67" stroke="#333" stroke-width="1.42"/>
<text transform="translate(952.29,365.2) scale(1,0.9)" fill="#4D4D4D" font-size="12" text-anchor="middle">100</text>
<line x1="1019.27" x2="1019.27" y1="214" y2="350" stroke="#fff" stroke-width="1.42"/>
<line x1="1019.27" x2="1019.27" y1="350" y2="353.67" stroke="#333" stroke-width="1.42"/>
<text transform="translate(1019.27,365.2) scale(1,0.9)" fill="#4D4D4D" font-size="12" text-anchor="middle">150</text>
<line x1="1086.25" x2="1086.25" y1="214" y2="350" stroke="#fff" stroke-width="1.42"/>
<line x1="1086.25" x2="1086.25" y1="350" y2="353.67" stroke="#333" stroke-width="1.42"/>
<text transform="translate(1086.25,365.2) scale(1,0.9)" fill="#4D4D4D" font-size="12" text-anchor="middle">200</text>
<svg x="804" y="214" width="318" height="136" viewBox="804 214 318 136" overflow="hidden">
<polyline points="818.14,343.12 825.21,332.99 825.21,315.32 825.91,334.17 831.8,305.89 841.7,303.54 847.59,301.65 853.48,301.65 858.67,301.18 862.91,284.69 867.62,297.65 872.33,308.25 873.51,272.44 879.4,301.18 885.53,308.25 886.94,296.47 887.65,324.74 892.12,317.68 892.12,270.55 892.12,331.81 893.77,331.81 893.77,289.4 893.77,329.46 898.96,312.96 898.96,271.02 898.96,331.81 900.61,331.81 900.61,289.4 900.61,329.46 905.79,310.61 905.79,265.84 905.79,331.81 907.44,331.81 907.44,289.4 907.44,329.46 912.39,310.61 912.39,265.13 912.39,331.81 914.04,331.81 914.04,289.4 914.04,329.46 919.22,310.61 919.22,257.59 919.22,331.81 920.87,331.81 920.87,289.4 920.87,329.46 925.82,310.61 925.82,257.59 925.82,331.81 927.47,331.81 927.47,289.4 927.47,329.46 932.65,310.61 932.65,256.41 932.65,331.81 934.3,331.81 934.3,289.4 934.3,329.46 939.49,308.25 939.49,258.77 939.49,331.81 941.13,331.81 941.13,289.4 941.13,327.1 946.32,308.25 946.32,252.17 946.32,331.81 947.97,331.81 947.97,289.4 947.97,324.74 952.92,305.89 952.92,251.23 952.92,331.81 954.57,331.81 954.57,289.4 954.57,320.03 959.51,301.18 959.51,248.17 959.51,331.81 961.16,331.81 961.16,289.4 961.16,315.32 962.0,327.1 966.71,324.74 966.71,243.45 966.71,317.68 973.31,312.96 973.31,242.28 973.78,317.68 980.14,308.25 980.14,240.39 980.85,312.96 986.74,300.0 986.74,242.28 987.92,300.0 993.81,307.07 993.81,237.09 994.99,307.07 1000.88,303.54 1000.88,234.03 1001.59,303.54 1007.24,303.54 1007.24,234.03 1007.24,304.72 1012.66,306.37 1013.84,232.85 1013.84,322.39 1013.84,277.62 1020.44,258.77 1020.44,224.6 1020.91,321.21 1022.08,276.44 1027.27,257.59 1027.27,219.89 1027.98,315.32 1029.15,270.55 1033.87,289.4 1033.87,312.96 1035.04,294.11 1040.93,290.58 1040.93,281.15 1042.11,311.79 1047.3,278.8 1049.18,310.61 1053.89,289.4 1053.89,296.47 1060.96,283.51 1060.96,295.29 1066.85,281.15 1066.85,292.23 1073.92,284.69 1074.63,289.4 1080.99,283.51 1082.17,287.04 1087.59,280.68 1095.13,286.34 1101.02,284.69 1107.62,282.33" fill="none" stroke="#F8766D" stroke-width="1.42" stroke-linejoin="round"/>
<polyline points="831.8,303.54 831.8,234.03" fill="none" stroke="#F8766D" stroke-width="1.42" stroke-linejoin="round"/>
<polyline points="838.64,303.54 838.64,237.09" fill="none" stroke="#F8766D" stroke-width="1.42" stroke-linejoin="round"/>
<polyline points="845.23,303.54 845.23,235.21" fill="none" stroke="#F8766D" stroke-width="1.42" stroke-linejoin="round"/>
<polyline points="852.07,303.54 852.07,234.74" fill="none" stroke="#F8766D" stroke-width="1.42" stroke-linejoin="round"/>
<polyline points="858.67,303.54 858.67,234.03" fill="none" stroke="#F8766D" stroke-width="1.42" stroke-linejoin="round"/>
<polyline points="865.5,303.54 865.5,230.02" fill="none" stroke="#F8766D" stroke-width="1.42" stroke-linejoin="round"/>
<polyline points="872.1,303.54 872.1,228.14" fill="none" stroke="#F8766D" stroke-width="1.42" stroke-linejoin="round"/>
<polyline points="878.93,303.54 878.93,226.96" fill="none" stroke="#F8766D" stroke-width="1.42" stroke-linejoin="round"/>
<polyline points="885.53,303.54 885.53,244.63" fill="none" stroke="#F8766D" stroke-width="1.42" stroke-linejoin="round"/>
<polyline points="818.14,343.12 825.21,340.06 831.8,324.74 831.8,275.73 831.8,337.7 833.45,337.7 833.45,305.89 833.45,322.39 838.64,322.39 838.64,272.91 838.64,337.7 840.29,337.7 840.29,310.61 840.29,332.99 845.23,322.39 845.23,278.09 845.23,337.7 846.88,337.7 846.88,304.72 846.88,321.21 852.07,321.21 852.07,274.08 852.07,337.7 853.72,337.7 853.72,305.89 853.72,321.21 858.67,321.21 858.67,274.08 858.67,337.7 860.31,337.7 860.31,304.72 860.31,321.21 865.5,321.21 865.5,277.62 865.5,337.7 867.15,337.7 867.15,303.54 867.15,332.99 872.1,320.03 872.1,276.44 872.1,337.7 873.75,337.7 873.75,303.54 873.75,332.99 878.93,320.03 878.93,270.55 878.93,337.7 880.58,337.7 880.58,302.36 880.58,332.99 885.53,320.03 885.53,275.26 885.53,337.7 887.18,337.7 887.18,301.18 887.18,332.99 892.12,317.68 892.12,274.08 892.12,337.7 893.77,337.7 893.77,289.4 893.77,332.99 898.96,317.68 898.96,271.02 898.96,337.7 900.61,337.7 900.61,290.58 900.61,332.99 905.79,317.68 905.79,272.91 905.79,337.7 907.44,337.7 907.44,292.93 907.44,332.99 912.39,317.68 912.39,272.91 912.39,337.7 914.04,337.7 914.04,288.22 914.04,332.99 919.22,317.68 919.22,274.79 919.22,337.7 920.87,337.7 920.87,289.4 920.87,332.99 925.82,317.68 925.82,271.73 925.82,337.7 927.47,337.7 927.47,289.4 927.47,332.99 932.65,317.68 932.65,271.73 932.65,337.7 934.3,337.7 934.3,288.22 934.3,332.99 939.49,317.68 939.49,276.44 939.49,337.7 941.13,337.7 941.13,288.22 941.13,332.99 946.32,336.53 946.32,270.55 946.32,337.7 947.97,337.7 947.97,288.22 947.97,332.99 952.92,335.35 952.92,272.91 952.92,337.7 954.57,337.7 954.57,288.22 954.57,332.99 959.51,334.17 959.51,274.56 959.51,337.7 961.16,337.7 961.16,288.22 961.16,332.99 966.71,332.99 966.71,272.91 966.71,335.35 968.36,335.35 968.36,291.76 968.36,331.81 973.31,331.81 973.31,271.02 973.31,335.35 974.96,335.35 974.96,291.76 974.96,331.81 980.14,329.46 980.14,269.37 980.14,335.35 981.79,335.35 981.79,291.76 981.79,331.81 986.74,327.1 986.74,271.02 986.74,335.35 988.39,335.35 988.39,291.76 988.39,331.81 993.81,324.74 993.81,270.08 993.81,335.35 995.46,335.35 995.46,291.76 995.46,331.81 1000.41,320.03 1000.41,272.91 1000.41,335.35 1002.06,335.35 1002.06,291.76 1002.06,331.81 1007.24,304.72 1007.24,271.73 1007.24,335.35 1008.89,335.35 1008.89,291.76 1008.89,331.81 1008.89,320.03 1013.84,328.28 1013.84,324.74 1014.31,329.46 1020.91,329.46 1020.91,324.74 1021.38,329.46 1027.98,328.75 1035.04,327.1 1042.11,329.46 1048.0,329.46 1053.89,328.75 1060.96,328.99" fill="none" stroke="#00BFC4" stroke-width="1.42" stroke-linejoin="round"/>
</svg>
<rect x="68" y="375" width="318" height="23" fill="#D9D9D9"/>
<text transform="translate(227.0,390.8) scale(1,0.9)" fill="#1A1A1A" font-size="12" text-anchor="middle">ratio: 8</text>
<rect x="68" y="398" width="318" height="136" fill="#EBEBEB"/>
<line x1="68" x2="386" y1="514.95" y2="514.95" stroke="#fff" stroke-width="0.71"/>
<line x1="68" x2="386" y1="486.65" y2="486.65" stroke="#fff" stroke-width="0.71"/>
<line x1="68" x2="386" y1="458.35" y2="458.35" stroke="#fff" stroke-width="0.71"/>
<line x1="68" x2="386" y1="430.05" y2="430.05" stroke="#fff" stroke-width="0.71"/>
<line x1="68" x2="386" y1="401.75" y2="401.75" stroke="#fff" stroke-width="0.71"/>
<line x1="115.81" x2="115.81" y1="398" y2="534" stroke="#fff" stroke-width="0.71"/>
<line x1="182.78" x2="182.78" y1="398" y2="534" stroke="#fff" stroke-width="0.71"/>
<line x1="249.75" x2="249.75" y1="398" y2="534" stroke="#fff" stroke-width="0.71"/>
<line x1="316.72" x2="316.72" y1="398" y2="534" stroke="#fff" stroke-width="0.71"/>
<line x1="383.69" x2="383.69" y1="398" y2="534" stroke="#fff" stroke-width="0.71"/>
<line x1="68" x2="386" y1="529.10" y2="529.10" stroke="#fff" stroke-width="1.42"/>
<line x1="64.33" x2="68" y1="529.10" y2="529.10" stroke="#333" stroke-width="1.42"/>
<text transform="translate(61.4,533.30) scale(1,0.9)" fill="#4D4D4D" font-size="12" text-anchor="end">0 B</text>
<line x1="68" x2="386" y1="500.80" y2="500.80" stroke="#fff" stroke-width="1.42"/>
<line x1="64.33" x2="68" y1="500.80" y2="500.80" stroke="#333" stroke-width="1.42"/>
<text transform="translate(61.4,505.00) scale(1,0.9)" fill="#4D4D4D" font-size="12" text-anchor="end">500 kB</text>
<line x1="68" x2="386" y1="472.50" y2="472.50" stroke="#fff" stroke-width="1.42"/>
<line x1="64.33" x2="68" y1="472.50" y2="472.50" stroke="#333" stroke-width="1.42"/>
<text transform="translate(61.4,476.70) scale(1,0.9)" fill="#4D4D4D" font-size="12" text-anchor="end">1 MB</text>
<line x1="68" x2="386" y1="444.20" y2="444.20" stroke="#fff" stroke-width="1.42"/>
<line x1="64.33" x2="68" y1="444.20" y2="444.20" stroke="#333" stroke-width="1.42"/>
<text transform="translate(61.4,448.40) scale(1,0.9)" fill="#4D4D4D" font-size="12" text-anchor="end">2 MB</text>
<line x1="68" x2="386" y1="415.90" y2="415.90" stroke="#fff" stroke-width="1.42"/>
<line x1="64.33" x2="68" y1="415.90" y2="415.90" stroke="#333" stroke-width="1.42"/>
<text transform="translate(61.4,420.10) scale(1,0.9)" fill="#4D4D4D" font-size="12" text-anchor="end">2 MB</text>
<line x1="82.33" x2="82.33" y1="398" y2="534" stroke="#fff" stroke-width="1.42"/>
<line x1="82.33" x2="82.33" y1="534" y2="537.67" stroke="#333" stroke-width="1.42"/>
<text transform="translate(82.33,549.2) scale(1,0.9)" fill="#4D4D4D" font-size="12" text-anchor="middle">0</text>
<line x1="149.30" x2="149.30" y1="398" y2="534" stroke="#fff" stroke-width="1.42"/>
<line x1="149.30" x2="149.30" y1="534" y2="537.67" stroke="#333" stroke-width="1.42"/>
<text transform="translate(149.30,549.2) scale(1,0.9)" fill="#4D4D4D" font-size="12" text-anchor="middle">50</text>
<line x1="216.27" x2="216.27" y1="398" y2="534" stroke="#fff" stroke-width="1.42"/>
<line x1="216.27" x2="216.27" y1="534" y2="537.67" stroke="#333" stroke-width="1.42"/>
<text transform="translate(216.27,549.2) scale(1,0.9)" fill="#4D4D4D" font-size="12" text-anchor="middle">100</text>
<line x1="283.24" x2="283.24" y1="398" y2="534" stroke="#fff" stroke-width="1.42"/>
<line x1="283.24" x2="283.24" y1="534" y2="537.67" stroke="#333" stroke-width="1.42"/>
<text transform="translate(283.24,549.2) scale(1,0.9)" fill="#4D4D4D" font-size="12" text-anchor="middle">150</text>
<line x1="350.21" x2="350.21" y1="398" y2="534" stroke="#fff" stroke-width="1.42"/>
<line x1="350.21" x2="350.21" y1="534" y2="537.67" stroke="#333" stroke-width="1.42"/>
<text transform="translate(350.21,549.2) scale(1,0.9)" fill="#4D4D4D" font-size="12" text-anchor="middle">200</text>
<svg x="68" y="398" width="318" height="136" viewBox="68 398 318 136" overflow="hidden">
<polyline points="82.14,527.12 89.21,516.99 89.21,498.14 89.91,518.17 95.8,489.89 95.8,421.09 95.8,518.17 96.98,518.17 96.98,475.76 96.98,521.47 102.64,489.42 102.64,414.49 102.64,518.17 103.82,518.17 103.82,475.76 103.82,521.47 109.23,489.42 109.23,416.38 109.23,518.17 110.41,518.17 110.41,468.69 110.41,521.47 115.83,489.42 115.83,415.91 115.83,518.17 117.01,518.17 117.01,467.51 117.01,504.97 122.67,498.61 122.67,417.56 122.67,518.17 123.84,518.17 123.84,467.04 123.84,504.97 129.5,498.61 129.5,418.74 129.5,518.17 130.68,518.17 130.68,443.95 130.68,504.97 136.33,498.61 136.33,415.2 136.33,518.17 137.51,518.17 137.51,444.65 137.51,504.03 142.93,500.5 142.93,414.02 142.93,518.17 144.11,518.17 144.11,443.95 144.11,502.38 149.53,502.38 149.53,412.61 149.53,518.17 150.7,518.17 150.7,442.06 150.7,502.38 156.36,502.38 156.36,407.43 156.36,518.17 157.54,518.17 157.54,442.3 157.54,502.38 163.19,502.38 163.19,408.6 163.19,518.17 164.37,518.17 164.37,438.76 164.37,502.38 169.79,502.38 169.79,406.48 169.79,518.17 170.97,518.17 170.97,436.88 170.97,502.38 176.62,502.38 176.62,407.9 176.62,518.17 177.8,518.17 177.8,438.06 177.8,502.38 183.22,502.38 183.22,406.48 183.22,518.17 184.4,518.17 184.4,454.55 184.4,504.03 190.05,506.39 190.05,409.78 190.05,518.17 191.23,518.17 191.23,466.33 191.23,506.39 196.89,508.74 196.89,403.89 196.89,518.17 198.07,518.17 198.07,463.98 198.07,508.74 203.49,511.1 203.49,407.43 203.49,518.17 204.66,518.17 204.66,463.98 204.66,511.1 210.32,514.64 210.32,451.02 210.32,518.17 211.5,518.17 211.5,461.62 211.5,514.64 217.15,516.99 217.15,446.3 217.15,518.17 218.33,518.17 218.33,461.62 218.33,516.99 223.75,515.81 223.75,448.66 223.75,518.17 224.93,518.17 224.93,461.62 224.93,515.81 226.0,512.28 229.53,508.74 229.53,460.91 230.01,508.74 230.71,449.6 231.18,507.57 236.6,505.21 236.6,460.21 237.55,449.6 238.02,504.03 244.14,496.96 244.14,443.95 244.85,492.25 250.98,487.07 250.98,447.95 251.92,487.07 257.81,511.57 257.81,444.65 258.99,487.77 264.88,510.63 265.82,444.65 266.53,459.26 272.42,500.26 272.42,443.95 273.13,500.26 279.02,501.91 279.02,441.12 279.72,499.32 286.08,497.67 286.08,441.12 286.79,498.14 292.45,496.73 292.45,438.06 293.15,495.79 299.28,496.96 299.28,439.47 299.99,496.96 305.88,498.14 305.88,439.0 306.58,496.96 312.71,493.43 312.71,432.87 313.18,493.43 317.89,496.96 318.37,487.54 319.78,499.32 324.96,482.83 326.14,499.32 333.21,491.07 333.92,496.96 339.1,496.96 339.57,492.25 340.28,496.49 347.35,493.43 353.24,491.07 353.71,496.96 357.95,494.61 365.02,494.14 371.62,492.25" fill="none" stroke="#F8766D" stroke-width="1.42" stroke-linejoin="round"/>
<polyline points="82.14,527.12 89.21,524.06 90.38,520.53 95.8,511.1 95.8,456.44 95.8,521.7 96.98,521.7 96.98,488.72 96.98,489.89 102.64,504.03 102.64,455.02 102.64,521.7 103.82,521.7 103.82,487.54 103.82,521.0 109.23,502.15 109.23,460.44 109.23,521.7 110.41,521.7 110.41,488.72 110.41,521.0 115.83,502.15 115.83,461.15 115.83,521.7 117.01,521.7 117.01,473.4 117.01,521.0 122.67,502.15 122.67,459.26 122.67,521.7 123.84,521.7 123.84,473.4 123.84,521.0 129.5,502.15 129.5,456.44 129.5,521.7 130.68,521.7 130.68,473.4 130.68,521.0 136.33,502.15 136.33,458.08 136.33,521.7 137.51,521.7 137.51,474.58 137.51,521.0 142.93,502.15 142.93,456.91 142.93,521.7 144.11,521.7 144.11,474.58 144.11,521.0 149.53,502.15 149.53,456.91 149.53,521.7 150.7,521.7 150.7,475.76 150.7,521.0 156.36,502.15 156.36,455.26 156.36,521.7 157.54,521.7 157.54,472.22 157.54,521.0 163.19,502.15 163.19,454.08 163.19,521.7 164.37,521.7 164.37,471.04 164.37,521.0 169.79,502.15 169.79,451.72 169.79,521.7 170.97,521.7 170.97,471.04 170.97,521.0 176.62,502.15 176.62,455.73 176.62,521.7 177.8,521.7 177.8,473.4 177.8,521.0 183.22,502.15 183.22,457.38 183.22,521.7 184.4,521.7 184.4,471.04 184.4,521.0 190.05,502.15 190.05,450.31 190.05,521.7 191.23,521.7 191.23,469.87 191.23,521.0 196.89,502.15 196.89,454.08 196.89,521.7 198.07,521.7 198.07,468.69 198.07,521.0 203.49,502.15 203.49,456.91 203.49,521.7 204.66,521.7 204.66,468.69 204.66,521.0 210.32,502.15 210.32,453.37 210.32,521.7 211.5,521.7 211.5,468.69 211.5,521.0 217.15,502.15 217.15,455.02 217.15,521.7 218.33,521.7 218.33,468.69 218.33,521.0 223.75,502.15 223.75,450.31 223.75,521.7 224.93,521.7 224.93,468.69 224.93,521.0 226.0,513.93 230.48,517.93 230.48,452.9 230.48,519.58 231.18,519.58 231.18,492.25 231.66,516.99 237.78,517.93 237.78,452.9 237.78,520.53 238.49,520.53 238.49,492.25 238.96,516.99 244.14,495.08 244.14,455.26 244.14,520.53 244.85,520.53 244.85,492.25 245.32,516.28 250.98,496.73 250.98,453.61 250.98,519.58 251.68,508.27 257.81,487.07 257.81,455.26 257.81,517.93 258.52,513.22 264.64,512.28 264.64,453.61 264.64,480.47 271.0,511.57 271.24,454.55 271.24,485.42 277.84,514.87 277.84,448.19 277.84,483.06 284.67,504.97 284.67,460.91 284.67,487.77 291.27,503.33 291.27,510.63 297.87,509.92 297.87,508.27 304.23,510.63 310.83,509.92 316.01,513.22 320.25,510.63 326.14,511.1" fill="none" stroke="#00BFC4" stroke-width="1.42" stroke-linejoin="round"/>
</svg>
<rect x="436" y="375" width="318" height="23" fill="#D9D9D9"/>
<text transform="translate(595.0,390.8) scale(1,0.9)" fill="#1A1A1A" font-size="12" text-anchor="middle">ratio: 128</text>
<rect x="436" y="398" width="318" height="136" fill="#EBEBEB"/>
<line x1="436" x2="754" y1="513.52" y2="513.52" stroke="#fff" stroke-width="0.71"/>
<line x1="436" x2="754" y1="485.97" y2="485.97" stroke="#fff" stroke-width="0.71"/>
<line x1="436" x2="754" y1="458.42" y2="458.42" stroke="#fff" stroke-width="0.71"/>
<line x1="436" x2="754" y1="430.87" y2="430.87" stroke="#fff" stroke-width="0.71"/>
<line x1="436" x2="754" y1="403.32" y2="403.32" stroke="#fff" stroke-width="0.71"/>
<line x1="487.98" x2="487.98" y1="398" y2="534" stroke="#fff" stroke-width="0.71"/>
<line x1="563.29" x2="563.29" y1="398" y2="534" stroke="#fff" stroke-width="0.71"/>
<line x1="638.59" x2="638.59" y1="398" y2="534" stroke="#fff" stroke-width="0.71"/>
<line x1="713.90" x2="713.90" y1="398" y2="534" stroke="#fff" stroke-width="0.71"/>
<line x1="436" x2="754" y1="527.30" y2="527.30" stroke="#fff" stroke-width="1.42"/>
<line x1="432.33" x2="436" y1="527.30" y2="527.30" stroke="#333" stroke-width="1.42"/>
<text transform="translate(429.4,531.50) scale(1,0.9)" fill="#4D4D4D" font-size="12" text-anchor="end">0 B</text>
<line x1="436" x2="754" y1="499.75" y2="499.75" stroke="#fff" stroke-width="1.42"/>
<line x1="432.33" x2="436" y1="499.75" y2="499.75" stroke="#333" stroke-width="1.42"/>
<text transform="translate(429.4,503.95) scale(1,0.9)" fill="#4D4D4D" font-size="12" text-anchor="end">500 kB</text>
<line x1="436" x2="754" y1="472.20" y2="472.20" stroke="#fff" stroke-width="1.42"/>
<line x1="432.33" x2="436" y1="472.20" y2="472.20" stroke="#333" stroke-width="1.42"/>
<text transform="translate(429.4,476.40) scale(1,0.9)" fill="#4D4D4D" font-size="12" text-anchor="end">1 MB</text>
<line x1="436" x2="754" y1="444.65" y2="444.65" stroke="#fff" stroke-width="1.42"/>
<line x1="432.33" x2="436" y1="444.65" y2="444.65" stroke="#333" stroke-width="1.42"/>
<text transform="translate(429.4,448.85) scale(1,0.9)" fill="#4D4D4D" font-size="12" text-anchor="end">2 MB</text>
<line x1="436" x2="754" y1="417.10" y2="417.10" stroke="#fff" stroke-width="1.42"/>
<line x1="432.33" x2="436" y1="417.10" y2="417.10" stroke="#333" stroke-width="1.42"/>
<text transform="translate(429.4,421.30) scale(1,0.9)" fill="#4D4D4D" font-size="12" text-anchor="end">2 MB</text>
<line x1="450.33" x2="450.33" y1="398" y2="534" stroke="#fff" stroke-width="1.42"/>
<line x1="450.33" x2="450.33" y1="534" y2="537.67" stroke="#333" stroke-width="1.42"/>
<text transform="translate(450.33,549.2) scale(1,0.9)" fill="#4D4D4D" font-size="12" text-anchor="middle">0</text>
<line x1="525.63" x2="525.63" y1="398" y2="534" stroke="#fff" stroke-width="1.42"/>
<line x1="525.63" x2="525.63" y1="534" y2="537.67" stroke="#333" stroke-width="1.42"/>
<text transform="translate(525.63,549.2) scale(1,0.9)" fill="#4D4D4D" font-size="12" text-anchor="middle">50</text>
<line x1="600.94" x2="600.94" y1="398" y2="534" stroke="#fff" stroke-width="1.42"/>
<line x1="600.94" x2="600.94" y1="534" y2="537.67" stroke="#333" stroke-width="1.42"/>
<text transform="translate(600.94,549.2) scale(1,0.9)" fill="#4D4D4D" font-size="12" text-anchor="middle">100</text>
<line x1="676.25" x2="676.25" y1="398" y2="534" stroke="#fff" stroke-width="1.42"/>
<line x1="676.25" x2="676.25" y1="534" y2="537.67" stroke="#333" stroke-width="1.42"/>
<text transform="translate(676.25,549.2) scale(1,0.9)" fill="#4D4D4D" font-size="12" text-anchor="middle">150</text>
<line x1="751.55" x2="751.55" y1="398" y2="534" stroke="#fff" stroke-width="1.42"/>
<line x1="751.55" x2="751.55" y1="534" y2="537.67" stroke="#333" stroke-width="1.42"/>
<text transform="translate(751.55,549.2) scale(1,0.9)" fill="#4D4D4D" font-size="12" text-anchor="middle">200</text>
<svg x="436" y="398" width="318" height="136" viewBox="436 398 318 136" overflow="hidden">
<polyline points="450.14,526.42 457.68,514.64 457.68,498.14 459.56,496.96 465.45,489.19 465.45,414.49 465.45,516.99 466.63,516.99 466.63,462.8 466.63,462.8 472.99,485.65 472.99,414.97 472.99,516.99 474.17,516.99 474.17,465.15 474.17,464.92 480.53,485.65 480.53,412.14 480.53,516.99 481.71,516.99 481.71,462.8 481.71,462.8 488.07,485.65 488.07,411.67 488.07,516.99 489.25,516.99 489.25,446.3 489.25,500.97 495.61,489.89 495.61,411.43 495.61,516.99 496.79,516.99 496.79,443.95 496.79,500.97 503.15,489.89 503.15,413.32 503.15,516.99 504.33,516.99 504.33,443.95 504.33,498.14 510.69,488.48 510.69,411.43 510.69,516.99 511.87,516.99 511.87,448.66 511.87,500.97 518.23,493.43 518.23,410.96 518.23,516.99 519.41,516.99 519.41,449.84 519.41,500.97 525.77,493.43 525.77,409.78 525.77,516.99 526.95,516.99 526.95,443.95 526.95,500.97 533.31,493.43 533.31,410.96 533.31,516.99 534.49,516.99 534.49,445.83 534.49,500.97 540.85,493.43 540.85,408.6 540.85,516.99 542.03,516.99 542.03,443.48 542.03,500.97 548.39,493.43 548.39,407.9 548.39,516.99 549.57,516.99 549.57,442.77 549.57,474.58 555.93,491.31 555.93,410.96 555.93,516.99 557.11,516.99 557.11,440.41 557.11,476.7 563.47,491.31 563.47,408.13 563.47,516.99 564.65,516.99 564.65,441.59 564.65,477.41 571.01,489.89 571.01,408.13 571.01,516.99 572.19,516.99 572.19,440.41 572.19,476.7 578.55,496.96 578.55,408.6 578.55,516.99 579.73,516.99 579.73,441.59 579.73,509.22 586.09,502.38 586.09,408.6 586.09,516.99 587.27,516.99 587.27,475.76 587.27,505.21 593.63,500.97 593.63,408.6 593.63,516.99 594.81,516.99 594.81,491.07 594.81,500.97 594.0,408.13 594.71,461.62 602.25,492.25 602.25,410.96 602.95,459.26 610.02,489.89 610.02,408.13 610.73,459.26 617.56,487.54 617.56,409.78 618.27,459.26 624.63,482.83 624.63,406.72 625.34,461.62 632.88,482.83 632.88,406.25 633.59,445.13 639.95,471.04 639.95,433.82 640.65,466.33 647.72,526.42 647.72,406.95 648.43,463.98 655.26,473.4 655.26,473.4 655.26,407.43 655.26,473.4 656.44,473.4 656.44,442.77 662.8,473.4 662.8,473.4 662.8,407.9 662.8,473.4 663.98,473.4 663.98,441.59 670.11,473.4 670.11,473.4 670.11,408.6 670.11,473.4 671.29,473.4 671.29,441.59 677.65,473.4 677.65,473.4 677.65,403.89 677.65,473.4 678.83,473.4 678.83,441.59 685.19,473.4 685.19,473.4 685.19,406.25 685.19,473.4 686.37,473.4 686.37,442.77 692.96,473.4 692.96,473.4 692.96,406.25 692.96,473.4 694.14,473.4 694.14,443.95 700.5,473.4 700.5,473.4 700.5,406.72 700.5,473.4 701.68,473.4 701.68,459.26 708.28,474.58 708.28,474.58 708.28,407.43 708.28,474.58 709.46,474.58 709.46,447.48 716.53,469.87 716.53,469.87 716.53,406.25 716.53,469.87 717.7,469.87 717.7,460.44 724.77,468.69 724.77,468.69 724.77,408.13 724.77,468.69 725.95,468.69 725.95,460.44 733.02,466.33 732.31,527.12 739.62,466.33" fill="none" stroke="#F8766D" stroke-width="1.42" stroke-linejoin="round"/>
<polyline points="450.14,526.42 458.38,521.7 465.45,499.32 465.45,443.48 465.45,520.53 466.63,520.53 466.63,478.11 466.63,499.32 472.99,508.74 472.99,446.3 472.99,520.53 474.17,520.53 474.17,465.15 474.17,519.35 480.53,499.32 480.53,441.59 480.53,520.53 481.71,520.53 481.71,473.4 481.71,519.35 488.07,499.32 488.07,445.83 488.07,520.53 489.25,520.53 489.25,466.33 489.25,519.35 495.61,499.32 495.61,441.59 495.61,520.53 496.79,520.53 496.79,467.51 496.79,519.35 503.15,499.32 503.15,443.95 503.15,520.53 504.33,520.53 504.33,466.33 504.33,519.35 510.69,499.32 510.69,443.48 510.69,520.53 511.87,520.53 511.87,466.8 511.87,519.35 518.23,499.32 518.23,442.3 518.23,520.53 519.41,520.53 519.41,466.33 519.41,519.35 525.77,499.32 525.77,441.59 525.77,520.53 526.95,520.53 526.95,463.98 526.95,519.35 533.31,499.32 533.31,443.95 533.31,520.53 534.49,520.53 534.49,463.98 534.49,519.35 540.85,499.32 540.85,439.94 540.85,520.53 542.03,520.53 542.03,463.98 542.03,519.35 548.39,499.32 548.39,440.41 548.39,520.53 549.57,520.53 549.57,463.98 549.57,519.35 555.93,499.32 555.93,439.94 555.93,520.53 557.11,520.53 557.11,463.98 557.11,519.35 563.47,493.43 563.47,438.06 563.47,520.53 564.65,520.53 564.65,462.09 564.65,519.35 571.01,493.43 571.01,440.41 571.01,520.53 572.19,520.53 572.19,475.76 572.19,519.35 578.55,493.43 578.55,441.59 578.55,520.53 579.73,520.53 579.73,485.89 579.73,519.35 586.09,493.43 586.09,438.53 586.09,520.53 587.27,520.53 587.27,491.07 587.27,519.35 593.63,493.43 593.63,443.95 593.63,520.53 594.81,520.53 594.81,492.25 594.81,519.35 594.59,492.25 594.59,444.65 594.59,519.82 595.89,519.82 595.89,492.25 595.89,511.81 602.2,492.25 602.2,441.59 602.2,519.82 603.43,519.82 603.43,492.25 603.43,511.81 609.9,487.54 609.9,440.41 609.9,519.11 611.2,519.11 611.2,503.56 611.2,511.81 617.7,475.76 617.7,440.41 617.7,519.82 618.98,511.81 618.98,475.05 618.98,511.81 625.1,516.52 625.1,439.94 625.1,516.52 626.4,511.81 626.4,475.99 626.4,511.81 632.64,516.52 632.64,439.94 632.64,516.52 634.06,511.81 634.06,475.05 634.06,511.81 640.18,510.63 640.18,438.53 640.18,513.22 641.48,513.22 641.48,477.41 641.48,510.63 647.91,510.16 647.91,436.88 647.91,513.22 649.14,513.22 649.14,476.7 649.14,510.16 655.19,509.69 655.19,438.76 655.19,513.22 656.44,513.22 656.44,480.7 656.44,509.69 662.9,509.22 662.9,439.94 662.9,513.22 664.22,513.22 664.22,480.7 664.22,509.22 670.58,508.74 670.58,504.03 671.76,513.46" fill="none" stroke="#00BFC4" stroke-width="1.42" stroke-linejoin="round"/>
</svg>
<text x="595" y="566" fill="#000" font-size="14.36" text-anchor="middle">Relative Time (seconds)</text>
<text transform="translate(18.4,281.7) rotate(-90)" x="0" y="0" fill="#000" font-size="14.45" text-anchor="middle">Memory Used</text>
<text x="1144.5" y="260.7" fill="#000" font-size="14.2">version</text>
<rect x="1144" y="270" width="23" height="46" fill="#EBEBEB"/>
<line x1="1146.3" x2="1164.7" y1="281.5" y2="281.5" stroke="#F8766D" stroke-width="1.9"/>
<line x1="1146.3" x2="1164.7" y1="304.5" y2="304.5" stroke="#00BFC4" stroke-width="1.9"/>
<text transform="translate(1174.5,285.7) scale(1,0.9)" fill="#4D4D4D" font-size="12">v3.5.20</text>
<text transform="translate(1174.5,308.7) scale(1,0.9)" fill="#4D4D4D" font-size="12">v3.6.0-rc.2</text>
</svg>
</body></html>
